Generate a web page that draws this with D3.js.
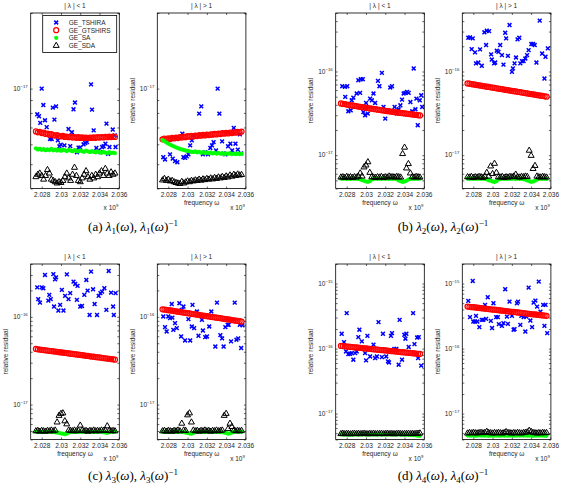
<!DOCTYPE html>
<html><head><meta charset="utf-8">
<script src="https://cdn.jsdelivr.net/npm/d3@7"></script>
<style>body{margin:0;background:#fff;overflow:hidden}</style>
</head><body><svg id="c" width="563" height="489"></svg>
<script>
// frequency grid (units of 1e9) shared by the dense series
const FREQ = [2.0274,2.0276,2.0278,2.028,2.0282,2.0284,2.0286,2.0288,2.029,2.0292,2.0294,2.0296,2.0298,2.03,2.0302,2.0304,2.0306,2.0308,2.031,2.0312,2.0314,2.0316,2.0318,2.032,2.0322,2.0324,2.0326,2.0328,2.033,2.0332,2.0334,2.0336,2.0338,2.034,2.0342,2.0344,2.0346,2.0348,2.035,2.0352,2.0354,2.0356];
const UNIT = 1e-18; // residual values below are in units of 1e-18
const xTicks = [2.028, 2.03, 2.032, 2.034, 2.036];
const xTickLabels = ["2.028", "2.03", "2.032", "2.034", "2.036"];
const seriesNames = ["GE_TSHIRA", "GE_GTSHIRS", "GE_SA", "GE_SDA"];

// ---- (a) lambda1, |lambda|<1
const p1Tshira = [[2.02754,7.9],[2.02772,7.76],[2.028,10],[2.02785,7.3],[2.02817,8.6],[2.02834,7.48],[2.02852,7.02],[2.02887,6.3],[2.02904,6.3],[2.02915,8.4],[2.02949,8.5],[2.02932,7.52],[2.02967,6.22],[2.02984,5.89],[2.02998,5.98],[2.03036,5.94],[2.03078,6.9],[2.03096,5.9],[2.03113,6.7],[2.0313,8.27],[2.03145,8.8],[2.03166,5.58],[2.03182,5.82],[2.032,5.82],[2.03234,6.0],[2.03252,6.07],[2.0327,6.12],[2.03312,10.4],[2.03322,8.25],[2.03339,6.82],[2.03367,5.8],[2.03391,5.67],[2.03409,5.58],[2.03427,5.85],[2.03443,5.89],[2.03472,7.25],[2.03461,6.03],[2.03489,5.5],[2.03503,5.85],[2.03537,6.87],[2.03558,6.51],[2.03566,5.85]];
const p1Gtshirs = [6.75,6.7,6.72,6.65,6.68,6.6,6.62,6.55,6.58,6.52,6.5,6.53,6.47,6.45,6.48,6.42,6.44,6.4,6.43,6.38,6.41,6.37,6.4,6.36,6.39,6.36,6.38,6.35,6.38,6.36,6.39,6.37,6.4,6.38,6.41,6.39,6.42,6.4,6.43,6.41,6.44,6.42];
const p1Sa = [5.78,5.72,5.76,5.7,5.74,5.68,5.73,5.69,5.75,5.67,5.72,5.66,5.71,5.65,5.7,5.68,5.64,5.7,5.66,5.63,5.69,5.65,5.62,5.67,5.63,5.6,5.66,5.62,5.59,5.64,5.6,5.57,5.62,5.58,5.55,5.6,5.56,5.53,5.58,5.54,5.56,5.53];
const p1Sda = [4.45,4.55,4.6,4.5,4.35,4.5,4.75,4.6,4.35,4.3,4.25,4.2,4.25,4.22,4.3,4.45,4.6,4.4,4.3,4.55,4.85,4.5,4.3,4.25,4.4,4.55,4.7,4.45,4.35,4.5,4.4,4.55,4.45,4.6,4.7,4.5,4.8,4.6,4.5,4.65,4.55,4.6];

// ---- (a) lambda1, |lambda|>1
const p2Tshira = [[2.02748,5.33],[2.02766,5.22],[2.02818,5.47],[2.02846,5.26],[2.0287,5.14],[2.02894,5.09],[2.02946,6.62],[2.02957,5.33],[2.02974,5.3],[2.02992,5.37],[2.03009,5.47],[2.03027,5.94],[2.03044,6.22],[2.03061,6.51],[2.0312,7.95],[2.03142,8.5],[2.03159,5.47],[2.03183,5.58],[2.03212,5.47],[2.03236,5.8],[2.03253,5.94],[2.0327,6.12],[2.03295,5.67],[2.03312,10.0],[2.0333,7.95],[2.03358,6.16],[2.03374,5.52],[2.03392,5.47],[2.0342,5.89],[2.03444,6.03],[2.03462,5.67],[2.03479,6.97],[2.03497,6.03],[2.03521,5.71],[2.03542,6.57],[2.03556,5.52]];
const p2Gtshirs = [6.28,6.32,6.27,6.33,6.3,6.36,6.33,6.38,6.35,6.41,6.38,6.43,6.4,6.46,6.43,6.48,6.45,6.5,6.47,6.52,6.49,6.54,6.51,6.56,6.53,6.57,6.55,6.6,6.57,6.62,6.59,6.64,6.61,6.66,6.63,6.68,6.65,6.7,6.67,6.72,6.69,6.74];
const p2Sa = [6.24,6.18,6.1,6.04,5.98,5.93,5.88,5.83,5.79,5.75,5.72,5.7,5.66,5.65,5.62,5.6,5.59,5.62,5.57,5.6,5.55,5.58,5.54,5.57,5.53,5.56,5.52,5.55,5.51,5.54,5.5,5.53,5.49,5.52,5.5,5.53,5.48,5.51,5.49,5.52,5.48,5.5];
const p2Sda = [4.32,4.38,4.3,4.35,4.28,4.3,4.25,4.22,4.2,4.18,4.26,4.2,4.24,4.28,4.25,4.3,4.28,4.32,4.3,4.35,4.31,4.36,4.33,4.38,4.35,4.4,4.36,4.42,4.38,4.44,4.4,4.46,4.42,4.48,4.44,4.52,4.47,4.55,4.5,4.56,4.52,4.54];

// ---- (b) lambda2, |lambda|<1
const p3Tshira = [[2.02754,66.7],[2.02782,65.5],[2.02806,66.7],[2.02785,49.7],[2.02817,33.5],[2.02842,34.4],[2.02852,45.3],[2.02869,48.8],[2.02904,54.6],[2.02921,78.7],[2.02946,80.9],[2.02967,80.9],[2.02939,55.5],[2.02973,32.8],[2.02991,30.0],[2.03001,42.1],[2.03019,31.4],[2.03043,47.5],[2.03061,45.3],[2.03078,54.6],[2.03095,42.1],[2.03124,77.3],[2.0314,66.7],[2.03165,96.4],[2.03182,37.7],[2.032,27.3],[2.03224,34.4],[2.03252,64.4],[2.0327,66.7],[2.03297,37.7],[2.03322,31.4],[2.03339,35.4],[2.03357,39.5],[2.03374,46.2],[2.03391,54.6],[2.03409,55.5],[2.03426,57.0],[2.03443,55.5],[2.03461,43.2],[2.03479,33.5],[2.03495,108.7],[2.03513,35.4],[2.03523,47.5],[2.03537,22.8],[2.03558,45.3],[2.03573,52.0],[2.03583,37.7]];
const p3Gtshirs = [41.5,41.0,40.8,40.2,40.0,39.5,39.3,38.8,38.6,38.1,37.9,37.5,37.2,36.8,36.6,36.2,36.0,35.6,35.4,35.0,34.8,34.5,34.2,33.9,33.7,33.4,33.2,32.9,32.7,32.4,32.2,32.0,31.8,31.5,31.3,31.1,30.9,30.7,30.5,30.3,30.1,29.9];
const p3Sa = [5.25,5.2,5.28,5.22,5.26,5.2,5.27,5.23,5.25,5.2,5.15,5.05,4.95,4.85,4.8,4.9,5.1,5.22,5.26,5.2,5.25,5.22,5.27,5.21,5.25,5.2,5.26,5.22,5.24,5.15,5.0,4.9,4.8,4.85,4.95,5.1,5.2,5.25,5.22,5.26,5.2,5.24];
const p3Sda = [5.45,5.5,5.4,5.55,5.45,5.5,5.4,5.5,5.45,5.6,6.1,5.6,7.2,7.6,8.3,6.2,5.5,5.45,5.4,5.5,5.45,5.55,5.4,5.5,5.45,5.6,5.5,5.5,5.45,5.55,5.5,5.45,10.4,12.4,7.0,7.9,6.1,5.5,5.45,5.55,5.5,5.45];

// ---- (b) lambda2, |lambda|>1
const p4Tshira = [[2.02748,253],[2.02766,256],[2.02794,249],[2.02783,185],[2.02818,169],[2.02828,125],[2.02852,128],[2.0287,184],[2.02888,117],[2.02915,294],[2.0294,307],[2.02964,304],[2.02933,207],[2.02985,160],[2.02992,139],[2.03016,125],[2.03027,128],[2.03044,177],[2.03061,172],[2.03079,207],[2.03097,157],[2.03113,121],[2.03131,290],[2.03141,249],[2.03159,154],[2.03176,359],[2.03201,99],[2.03211,109],[2.03228,125],[2.03243,147],[2.03259,242],[2.03277,253],[2.03288,125],[2.03305,133],[2.03322,133],[2.0334,143],[2.03358,157],[2.03374,180],[2.03402,213],[2.0342,213],[2.03437,207],[2.03455,128],[2.03489,405],[2.03514,164],[2.03538,82.4],[2.03549,150],[2.03573,189]];
const p4Gtshirs = [72,71.4,70.8,70.1,69.5,68.9,68.3,67.7,67.1,66.5,65.9,65.3,64.7,64.2,63.6,63.0,62.5,61.9,61.4,60.8,60.3,59.8,59.2,58.7,58.2,57.7,57.2,56.7,56.2,55.7,55.2,54.7,54.2,53.7,53.3,52.8,52.3,51.9,51.4,51.0,50.5,50.0];
const p4Sa = [5.25,5.22,5.27,5.2,5.25,5.22,5.26,5.2,5.24,5.2,5.15,5.05,4.95,4.85,4.8,4.9,5.1,5.2,5.25,5.22,5.26,5.2,5.25,5.22,5.27,5.2,5.25,5.22,5.24,5.18,5.1,5.0,4.9,4.8,4.85,4.95,5.1,5.2,5.24,5.22,5.26,5.2];
const p4Sda = [5.5,5.45,5.55,5.4,5.5,5.45,5.55,5.5,5.4,5.55,6.2,5.6,7.4,6.0,7.95,6.2,5.5,5.45,5.55,5.4,5.5,5.45,5.55,5.5,5.6,5.9,5.5,5.45,5.55,5.5,5.6,5.55,11.4,9.9,6.9,7.5,5.6,5.5,5.45,5.55,5.5,5.45];

// ---- (c) lambda3, |lambda|<1
const p5Tshira = [[2.02754,217],[2.02764,159],[2.02782,145],[2.028,217],[2.02817,212],[2.02834,300],[2.02869,153],[2.02879,178],[2.02894,159],[2.02921,307],[2.02939,268],[2.02949,282],[2.02928,131],[2.02973,118],[2.02991,137],[2.03009,203],[2.03026,118],[2.03043,173],[2.03061,305],[2.03078,159],[2.03096,186],[2.0313,252],[2.03148,237],[2.03172,225],[2.03165,156],[2.032,131],[2.03218,133],[2.03242,178],[2.03263,263],[2.03276,199],[2.03297,105],[2.03312,327],[2.03333,206],[2.03349,140],[2.03374,105],[2.03391,173],[2.03409,186],[2.03426,194],[2.0345,212],[2.03471,120],[2.03495,333],[2.0352,189],[2.03541,131],[2.03548,105],[2.03566,186]];
const p5Gtshirs = [43.0,42.7,42.4,42.1,41.8,41.6,41.3,41.0,40.7,40.4,40.2,39.9,39.6,39.3,39.1,38.8,38.6,38.3,38.0,37.8,37.5,37.3,37.0,36.8,36.5,36.3,36.0,35.8,35.5,35.3,35.1,34.8,34.6,34.4,34.1,33.9,33.7,33.4,33.2,33.0,32.8,32.5];
const p5Sa = [4.9,4.88,4.92,4.87,4.9,4.88,4.92,4.9,4.87,4.9,4.85,4.8,4.75,4.7,4.65,4.6,4.65,4.8,4.9,4.88,4.92,4.87,4.9,4.88,4.92,4.9,4.87,4.9,4.88,4.92,4.87,4.9,4.88,4.92,4.9,4.85,4.8,4.75,4.85,4.9,4.88,4.9];
const p5Sda = [5.0,5.05,4.95,5.05,5.0,4.95,5.05,5.0,5.1,5.0,5.1,6.3,7.5,7.9,8.0,6.5,6.0,5.1,5.05,5.0,5.1,5.0,5.05,5.8,5.1,5.0,5.05,4.95,5.05,5.0,5.1,5.0,5.05,5.0,5.1,5.05,5.1,5.7,5.05,5.0,5.05,5.0];

// ---- (c) lambda3, |lambda|>1
const p6Tshira = [[2.02748,101],[2.02766,76.3],[2.02783,68.1],[2.028,101],[2.02818,96.6],[2.02836,140],[2.02842,98],[2.02852,71.1],[2.0287,84.7],[2.02888,74.3],[2.02915,143],[2.02933,59.7],[2.0294,120],[2.02957,131],[2.02974,53.8],[2.03009,94.2],[2.03027,53.8],[2.03044,77.6],[2.03051,137],[2.03068,74.3],[2.03097,115],[2.03113,60.8],[2.03149,92.5],[2.03159,69.8],[2.03183,58.7],[2.03201,59.7],[2.03225,77.6],[2.03246,115],[2.03288,45.9],[2.03305,145],[2.0334,61.9],[2.03358,56.8],[2.03374,45.9],[2.03392,76.3],[2.03416,81.1],[2.03426,81.1],[2.03451,52.5],[2.03489,145],[2.03507,54.8],[2.03525,56.8],[2.03541,81.1],[2.03556,44.1],[2.0357,79.8]];
const p6Gtshirs = [122,121.0,120.1,119.1,118.2,117.3,116.4,115.4,114.5,113.6,112.7,111.9,111.0,110.1,109.3,108.4,107.6,106.7,105.9,105.1,104.2,103.4,102.6,101.8,101.0,100.2,99.4,98.7,97.9,97.1,96.4,95.6,94.9,94.1,93.4,92.7,91.9,91.2,90.5,89.8,89.1,88.4];
const p6Sa = [4.9,4.88,4.92,4.87,4.9,4.88,4.92,4.9,4.87,4.9,4.88,4.85,4.8,4.75,4.7,4.65,4.75,4.85,4.9,4.88,4.92,4.87,4.9,4.88,4.92,4.9,4.87,4.9,4.88,4.92,4.87,4.85,4.8,4.75,4.65,4.7,4.8,4.88,4.9,4.92,4.88,4.9];
const p6Sda = [5.0,5.05,4.95,5.05,5.0,4.95,5.05,5.0,5.1,5.0,6.1,5.1,5.05,7.6,8.0,6.3,5.1,5.0,5.05,4.95,5.05,5.0,5.1,5.0,5.05,4.95,5.05,5.0,5.1,5.0,5.05,5.1,7.5,7.9,5.3,6.1,5.6,5.1,5.0,5.05,5.0,5.05];

// ---- (d) lambda4, |lambda|<1
const p7Tshira = [[2.02748,169],[2.02772,126],[2.028,351],[2.02793,90.4],[2.02817,82.4],[2.02834,83.2],[2.02852,85.3],[2.02869,67.4],[2.02887,85.3],[2.02904,90.4],[2.02921,150],[2.02932,195],[2.02957,129],[2.02991,85.3],[2.03001,65.8],[2.03015,157],[2.03043,75.7],[2.03078,115],[2.03095,71.6],[2.03113,75.7],[2.0313,255],[2.03165,74],[2.03176,169],[2.0321,75.7],[2.03228,63.5],[2.03239,61.2],[2.03259,157],[2.0327,173],[2.03294,98.4],[2.03315,98.4],[2.03339,56.5],[2.03349,277],[2.03374,67.4],[2.03398,163],[2.03419,169],[2.03409,142],[2.03443,106],[2.03489,351],[2.03503,117],[2.03531,148],[2.03548,150],[2.03541,71.6],[2.03573,54.6]];
const p7Gtshirs = [110,109.2,108.5,107.7,107.0,106.2,105.5,104.8,104.0,103.3,102.6,101.9,101.2,100.5,99.8,99.1,98.4,97.7,97.0,96.4,95.7,95.0,94.4,93.7,93.1,92.4,91.8,91.1,90.5,89.9,89.3,88.6,88.0,87.4,86.8,86.2,85.6,85.0,84.4,83.8,83.2,82.6];
const p7Sa = [4.78,4.8,4.76,4.79,4.77,4.8,4.76,4.78,4.8,4.77,4.79,4.76,4.8,4.78,4.77,4.79,4.76,4.8,4.78,4.77,4.79,4.76,4.8,4.78,4.77,4.79,4.76,4.8,4.78,4.77,4.79,4.76,4.78,4.75,4.77,4.74,4.72,4.7,4.66,4.62,4.58,4.55];
const p7Sda = [4.9,4.95,4.88,4.93,4.9,4.86,4.92,4.95,4.89,4.93,4.88,4.92,4.95,4.9,4.87,4.93,4.9,4.95,4.88,4.92,4.9,4.94,4.88,4.91,4.95,4.89,4.93,4.9,4.87,4.92,4.95,4.9,4.88,4.93,4.9,4.95,4.89,4.92,4.9,4.94,4.96,5.0];

// ---- (d) lambda4, |lambda|>1
const p8Tshira = [[2.02748,542],[2.02766,305],[2.02794,1097],[2.028,261],[2.02818,261],[2.02828,319],[2.02842,261],[2.02863,214],[2.02888,277],[2.02904,277],[2.02922,470],[2.02933,287],[2.0295,617],[2.02982,267],[2.02995,207],[2.03009,499],[2.03037,305],[2.03055,305],[2.03065,238],[2.03097,224],[2.03113,247],[2.03131,819],[2.03149,311],[2.03159,240],[2.03176,528],[2.03201,319],[2.03218,195],[2.03228,199],[2.03253,499],[2.03264,528],[2.03288,232],[2.03298,319],[2.03322,305],[2.0334,183],[2.0335,311],[2.03374,867],[2.03392,270],[2.0341,214],[2.03426,510],[2.03444,547],[2.03462,443],[2.03479,1072],[2.03497,371],[2.03525,470],[2.03538,224],[2.03549,470],[2.03567,173]];
const p8Gtshirs = [443,439.5,436,432.5,429,425.6,422.2,418.8,415.5,412.2,408.9,405.6,402.4,399.2,396,392.8,389.7,386.6,383.5,380.4,377.4,374.4,371.4,368.4,365.5,362.6,359.7,356.8,354,351.2,348.4,345.6,342.8,340.1,337.4,334.7,332,329.4,326.8,324.2,321.6,319];
const p8Sa = [4.62,4.58,4.6,4.63,4.57,4.6,4.62,4.58,4.61,4.59,4.63,4.57,4.6,4.62,4.58,4.61,4.6,4.57,4.62,4.59,4.61,4.58,4.6,4.63,4.57,4.6,4.62,4.58,4.61,4.59,4.62,4.58,4.6,4.63,4.57,4.6,4.61,4.58,4.62,4.59,4.6,4.58];
const p8Sda = [5.0,5.08,5.02,5.1,5.05,5.0,5.08,5.12,5.05,5.1,5.3,5.1,5.05,5.0,5.08,5.02,5.1,5.05,5.0,5.08,5.25,5.1,5.05,5.0,5.08,5.02,5.1,5.05,5.0,5.08,5.12,5.2,5.5,5.3,5.1,5.05,5.0,5.08,5.02,5.1,5.05,5.08];

const panels = [
  {col:0,row:0,title:"| λ | < 1",ydom:[4,20],ts:p1Tshira,gt:p1Gtshirs,sa:p1Sa,sda:p1Sda,legend:true,ylab:false,xlab:false},
  {col:1,row:0,title:"| λ | > 1",ydom:[4,20],ts:p2Tshira,gt:p2Gtshirs,sa:p2Sa,sda:p2Sda,ylab:true,xlab:true},
  {col:2,row:0,title:"| λ | < 1",ydom:[4,500],ts:p3Tshira,gt:p3Gtshirs,sa:p3Sa,sda:p3Sda,ylab:true,xlab:true},
  {col:3,row:0,title:"| λ | > 1",ydom:[4,500],ts:p4Tshira,gt:p4Gtshirs,sa:p4Sa,sda:p4Sda,ylab:true,xlab:true},
  {col:0,row:1,title:"| λ | < 1",ydom:[4,400],ts:p5Tshira,gt:p5Gtshirs,sa:p5Sa,sda:p5Sda,ylab:true,xlab:true},
  {col:1,row:1,title:"| λ | > 1",ydom:[4,400],ts:p6Tshira,gt:p6Gtshirs,sa:p6Sa,sda:p6Sda,ylab:true,xlab:true},
  {col:2,row:1,title:"| λ | < 1",ydom:[4,2000],ts:p7Tshira,gt:p7Gtshirs,sa:p7Sa,sda:p7Sda,ylab:true,xlab:true},
  {col:3,row:1,title:"| λ | > 1",ydom:[4,2000],ts:p8Tshira,gt:p8Gtshirs,sa:p8Sa,sda:p8Sda,ylab:true,xlab:true}
];
const captions = [
  {x:133, y:231, letter:"a", k:"1"},
  {x:443, y:231, letter:"b", k:"2"},
  {x:133, y:480, letter:"c", k:"3"},
  {x:443, y:480, letter:"d", k:"4"}
];

// ---------------- drawing ----------------
const svg = d3.select("#c");
const FONT = "'Liberation Sans', Arial, Helvetica, sans-serif";
const SERIF = "'Liberation Serif', 'DejaVu Serif', serif";
const colLeft = [30.7, 157.3, 335.7, 462.3];
const rowTop = [13, 264];
const PW = 88.6, PH = 175.5;
const xDomain = [2.02686, 2.03605];
const FS = 6.5;
const TXT = "#262626";

const markX = "M-1.9,-1.9L1.9,1.9M-1.9,1.9L1.9,-1.9";
const markStar = "M-2.1,0H2.1M0,-2.1V2.1M-1.5,-1.5L1.5,1.5M-1.5,1.5L1.5,-1.5";
const markTri = "M0,-3.4L3,1.8L-3,1.8Z";

function drawMarkers(g, data, fx, fy, kind) {
  if (kind === "o") {
    g.selectAll(null).data(data).enter().append("circle")
      .attr("cx", d => fx(d)).attr("cy", d => fy(d)).attr("r", 2.5)
      .attr("fill", "none").attr("stroke", "#ff0000").attr("stroke-width", 1.25);
  } else {
    const path = kind === "x" ? markX : kind === "*" ? markStar : markTri;
    const col = kind === "x" ? "#0000ff" : kind === "*" ? "#00ff00" : "#000";
    const sw = kind === "x" ? 1.5 : kind === "*" ? 1.15 : 1.0;
    g.selectAll(null).data(data).enter().append("path")
      .attr("d", path)
      .attr("transform", d => `translate(${fx(d)},${fy(d)})`)
      .attr("fill", "none").attr("stroke", col).attr("stroke-width", sw);
  }
}

panels.forEach((p, pi) => {
  const L = colLeft[p.col], T = rowTop[p.row];
  const x = d3.scaleLinear().domain(xDomain).range([L, L + PW]);
  const y = d3.scaleLog().domain(p.ydom).range([T + PH, T]);
  const g = svg.append("g");
  g.append("rect").attr("x", L).attr("y", T).attr("width", PW).attr("height", PH).attr("fill", "#fff");

  const cid = "clip" + pi;
  svg.append("defs").append("clipPath").attr("id", cid)
    .append("rect").attr("x", L).attr("y", T).attr("width", PW).attr("height", PH);
  const dg = g.append("g").attr("clip-path", `url(#${cid})`);

  drawMarkers(dg, p.ts, d => x(d[0]), d => y(d[1]), "x");
  drawMarkers(dg, p.gt.map((v, i) => [FREQ[i], v]), d => x(d[0]), d => y(d[1]), "o");
  drawMarkers(dg, p.sa.map((v, i) => [FREQ[i], v]), d => x(d[0]), d => y(d[1]), "*");
  drawMarkers(dg, p.sda.map((v, i) => [FREQ[i], v]), d => x(d[0]), d => y(d[1]), "^");

  // axes (ticks inward, box)
  const styleAxis = sel => {
    sel.select(".domain").remove();
    sel.selectAll(".tick line").attr("stroke", "#000").attr("stroke-width", 0.6);
    sel.selectAll("text").attr("font-size", FS).attr("font-family", FONT).attr("fill", TXT);
  };
  g.append("g").attr("transform", `translate(0,${T + PH})`)
    .call(d3.axisBottom(x).tickValues(xTicks).tickFormat((d, i) => xTickLabels[i])
      .tickSizeInner(-2).tickSizeOuter(0).tickPadding(3.6)).call(styleAxis);
  g.append("g").attr("transform", `translate(0,${T})`)
    .call(d3.axisTop(x).tickValues(xTicks).tickFormat("").tickSizeInner(-2).tickSizeOuter(0)).call(styleAxis);
  const yt = y.ticks();
  g.append("g").attr("transform", `translate(${L},0)`)
    .call(d3.axisLeft(y).tickValues(yt).tickFormat("").tickSizeInner(-2).tickSizeOuter(0)).call(styleAxis);
  g.append("g").attr("transform", `translate(${L + PW},0)`)
    .call(d3.axisRight(y).tickValues(yt).tickFormat("").tickSizeInner(-2).tickSizeOuter(0)).call(styleAxis);

  // decade labels 10^n
  yt.filter(d => Math.abs(Math.log10(d) - Math.round(Math.log10(d))) < 1e-9).forEach(d => {
    const e = Math.round(Math.log10(d * UNIT));
    const t = g.append("text").attr("x", L - 3).attr("y", y(d) + 2.3)
      .attr("text-anchor", "end").attr("font-family", FONT).attr("font-size", FS).attr("fill", TXT);
    t.append("tspan").text("10");
    t.append("tspan").attr("font-size", 4.3).attr("dy", -3).text("−" + Math.abs(e));
  });

  g.append("rect").attr("x", L).attr("y", T).attr("width", PW).attr("height", PH)
    .attr("fill", "none").attr("stroke", "#000").attr("stroke-width", 0.8);

  // title
  g.append("text").attr("x", L + PW / 2).attr("y", T - 5.5).attr("text-anchor", "middle")
    .attr("font-family", FONT).attr("font-size", FS).attr("fill", TXT).text(p.title);

  // x 10^9
  const m = g.append("text").attr("x", L + PW - 1).attr("y", T + PH + 21).attr("text-anchor", "end")
    .attr("font-family", FONT).attr("font-size", FS).attr("fill", TXT);
  m.append("tspan").text("x 10");
  m.append("tspan").attr("font-size", 4.3).attr("dy", -3).text("9");

  if (p.xlab) {
    g.append("text").attr("x", L + PW / 2).attr("y", T + PH + 16.5).attr("text-anchor", "middle")
      .attr("font-family", FONT).attr("font-size", FS).attr("fill", TXT).text("frequency ω");
  }
  if (p.ylab) {
    g.append("text").attr("transform", `translate(${L - 22.5},${T + PH / 2}) rotate(-90)`)
      .attr("text-anchor", "middle").attr("font-family", FONT).attr("font-size", FS).attr("fill", TXT)
      .text("relative residual");
  }

  if (p.legend) {
    const lx = L + 12, ly = T + 2.5, lw = 74, lh = 37;
    const lg = g.append("g");
    lg.append("rect").attr("x", lx).attr("y", ly).attr("width", lw).attr("height", lh)
      .attr("fill", "#fff").attr("stroke", "#000").attr("stroke-width", 0.8);
    const kinds = ["x", "o", "*", "^"];
    seriesNames.forEach((name, i) => {
      const cy = ly + 7 + i * 7.7;
      drawMarkers(lg, [[lx + 13.5, cy]], d => d[0], d => d[1], kinds[i]);
      lg.append("text").attr("x", lx + 26).attr("y", cy + 2.3)
        .attr("font-family", FONT).attr("font-size", FS).attr("fill", TXT).text(name);
    });
  }
});

// sub-figure captions
captions.forEach(c => {
  const t = svg.append("text").attr("x", c.x).attr("y", c.y).attr("text-anchor", "middle")
    .attr("font-family", SERIF).attr("font-size", 13).attr("fill", "#000");
  const parts = [
    ["(" + c.letter + ") ", ""], ["λ", "i"], [c.k, "sub"], ["(", ""], ["ω", "i"], ["), ", ""],
    ["λ", "i"], [c.k, "sub"], ["(", ""], ["ω", "i"], [")", ""], ["−1", "sup"]
  ];
  let shift = 0;
  parts.forEach(([s, st]) => {
    const target = st === "sub" ? 3 : st === "sup" ? -5.5 : 0;
    const ts = t.append("tspan").text(s).attr("dy", target - shift);
    shift = target;
    if (st === "i") ts.attr("font-style", "italic");
    if (st === "sub" || st === "sup") ts.attr("font-size", 9);
  });
});
</script>
</body></html>
